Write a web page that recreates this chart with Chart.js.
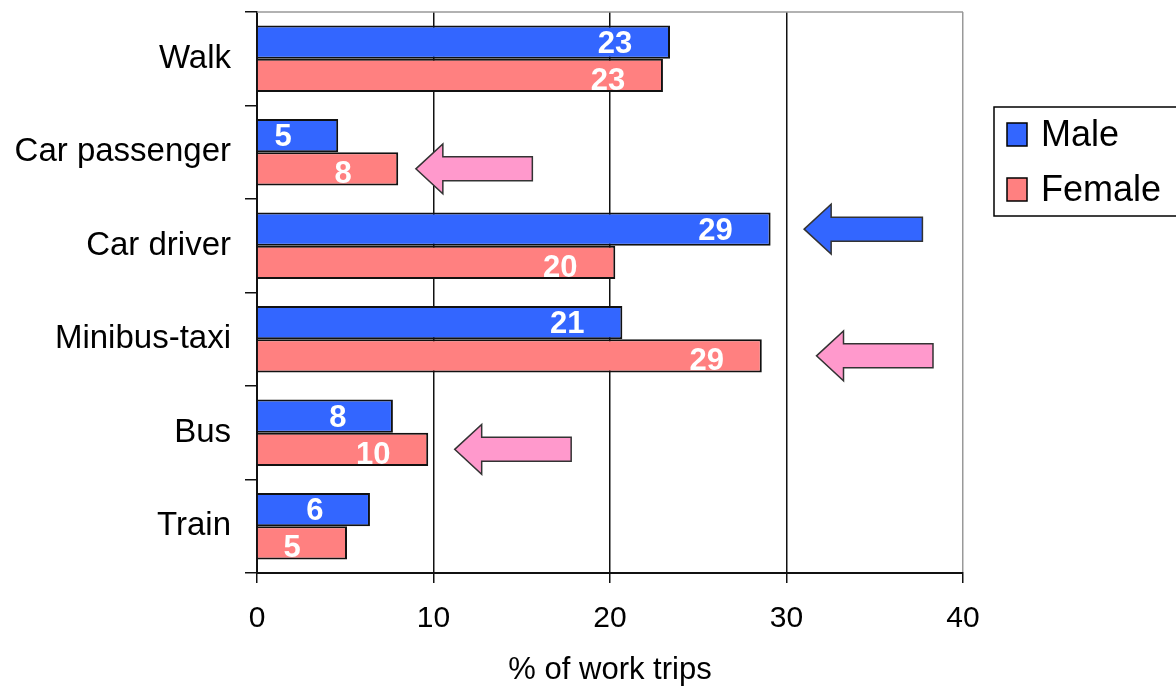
<!DOCTYPE html>
<html>
<head>
<meta charset="utf-8">
<script src="https://cdn.jsdelivr.net/npm/chart.js@4.4.1/dist/chart.umd.min.js"></script>
<style>
	body { margin: 0; background: #fff; }
	#wrap { width: 1176px; height: 689px; position: relative; }
</style>
</head>
<body>
<div id="wrap"><canvas id="tripsChart"></canvas></div>
<script>
var categories = ['Walk', 'Car passenger', 'Car driver', 'Minibus-taxi', 'Bus', 'Train'];
var maleValues = [23.4, 4.6, 29.1, 20.7, 7.7, 6.4];
var femaleValues = [23.0, 8.0, 20.3, 28.6, 9.7, 5.1];
var xTicks = [0, 10, 20, 30, 40];
var seriesNames = ['Male', 'Female'];

// arrows pointing at the highlighted bars, ends given in % units
var arrows = [
	{ category: 'Car passenger', series: 1, from: 9.0, to: 15.6, color: '#ff99cc' },
	{ category: 'Car driver', series: 0, from: 31.0, to: 37.7, color: '#3366ff' },
	{ category: 'Minibus-taxi', series: 1, from: 31.7, to: 38.3, color: '#ff99cc' },
	{ category: 'Bus', series: 1, from: 11.2, to: 17.8, color: '#ff99cc' }
];

var blue = '#3366ff';
var salmon = '#ff8080';
var fontFamily = '"Liberation Sans", Arial, sans-serif';

var overlay = {
	id: 'overlay',
	afterDatasetsDraw: function(chart) {
		var ctx = chart.ctx;
		var area = chart.chartArea;
		var xs = chart.scales.x;
		ctx.save();

		// top border of plot area
		ctx.strokeStyle = '#999';
		ctx.lineWidth = 1.5;
		ctx.beginPath();
		ctx.moveTo(area.left, area.top);
		ctx.lineTo(area.right, area.top);
		ctx.stroke();

		// value labels inside the bars
		ctx.font = 'bold 31px ' + fontFamily;
		ctx.fillStyle = '#fff';
		ctx.textAlign = 'center';
		ctx.textBaseline = 'middle';
		chart.data.datasets.forEach(function(ds, di) {
			chart.getDatasetMeta(di).data.forEach(function(bar, i) {
				ctx.fillText(Math.round(ds.data[i]), bar.x - 55, bar.y + (di ? 6 : 2));
			});
		});

		// arrows
		arrows.forEach(function(ar) {
			var i = categories.indexOf(ar.category);
			var y = chart.getDatasetMeta(ar.series).data[i].y;
			var tip = xs.getPixelForValue(ar.from);
			var tail = xs.getPixelForValue(ar.to);
			var head = tip + 27;
			ctx.beginPath();
			ctx.moveTo(tip, y);
			ctx.lineTo(head, y - 25);
			ctx.lineTo(head, y - 12);
			ctx.lineTo(tail, y - 12);
			ctx.lineTo(tail, y + 12);
			ctx.lineTo(head, y + 12);
			ctx.lineTo(head, y + 25);
			ctx.closePath();
			ctx.fillStyle = ar.color;
			ctx.fill();
			ctx.strokeStyle = '#333';
			ctx.lineWidth = 1.5;
			ctx.stroke();
		});

		// legend box
		ctx.strokeStyle = '#000';
		ctx.lineWidth = 1.5;
		ctx.strokeRect(994, 107, 200, 109);
		ctx.font = '36px ' + fontFamily;
		ctx.textAlign = 'left';
		ctx.textBaseline = 'middle';
		chart.data.datasets.forEach(function(ds, di) {
			var top = 123 + di * 55;
			ctx.fillStyle = ds.backgroundColor;
			ctx.fillRect(1007, top, 20, 23);
			ctx.strokeStyle = '#000';
			ctx.strokeRect(1007, top, 20, 23);
			ctx.fillStyle = '#000';
			ctx.fillText(ds.label, 1041, top + 13);
		});
		ctx.restore();
	}
};

var ctx = document.getElementById('tripsChart').getContext('2d');
var tripsChart = new Chart(ctx, {
	type: 'bar',
	data: {
		labels: categories,
		datasets: [{
			label: seriesNames[0],
			data: maleValues,
			backgroundColor: blue,
			borderColor: '#111',
			borderWidth: 2
		}, {
			label: seriesNames[1],
			data: femaleValues,
			backgroundColor: salmon,
			borderColor: '#111',
			borderWidth: 2
		}]
	},
	options: {
		indexAxis: 'y',
		responsive: true,
		maintainAspectRatio: false,
		animation: false,
		devicePixelRatio: 1,
		layout: { padding: { top: 12, right: 213, left: 0, bottom: 0 } },
		datasets: { bar: { categoryPercentage: 0.71, barPercentage: 1.0 } },
		plugins: {
			legend: { display: false },
			tooltip: { enabled: false }
		},
		scales: {
			x: {
				min: 0,
				max: 40,
				afterBuildTicks: function(scale) {
					scale.ticks = xTicks.map(function(v) { return { value: v }; });
				},
				afterFit: function(scale) { scale.height = 116; },
				grid: {
					color: function(c) { return c.tick && c.tick.value === 40 ? '#999' : '#111'; },
					tickColor: '#111',
					lineWidth: 1.5,
					tickLength: 10
				},
				border: { color: '#111', width: 2 },
				ticks: {
					color: '#000',
					padding: 18,
					font: { family: fontFamily, size: 30 }
				},
				title: {
					display: true,
					text: '% of work trips',
					color: '#000',
					padding: { top: 0, bottom: 0 },
					font: { family: fontFamily, size: 31 }
				}
			},
			y: {
				afterFit: function(scale) {
					scale.width = 257;
					scale.paddingTop = 0;
					scale.paddingBottom = 0;
				},
				grid: {
					drawOnChartArea: false,
					color: '#111',
					lineWidth: 1.5,
					tickLength: 12
				},
				border: { color: '#111', width: 2 },
				ticks: {
					color: '#000',
					padding: 14,
					font: { family: fontFamily, size: 33 }
				}
			}
		}
	},
	plugins: [overlay]
});
</script>
</body>
</html>
